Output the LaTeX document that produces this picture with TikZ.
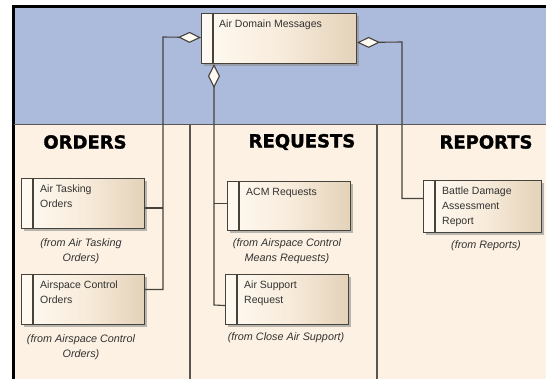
\documentclass[tikz,border=0pt]{standalone}
\usepackage{fontspec}
\setmainfont{Liberation Sans}
\newfontfamily\headfont[FakeBold=1.6]{DejaVu Sans Bold}
\usetikzlibrary{arrows.meta,shadows}

\definecolor{bandblue}{RGB}{172,187,220}
\definecolor{paper}{RGB}{252,241,226}
\definecolor{boxlight}{RGB}{255,250,242}
\definecolor{boxmid}{RGB}{248,236,220}
\definecolor{boxdark}{RGB}{228,210,185}
\definecolor{edge}{RGB}{70,66,60}
\definecolor{ink}{RGB}{50,50,50}

\pgfdeclarehorizontalshading{classfill}{100bp}{
  color(0bp)=(boxlight); color(25bp)=(boxlight); color(50bp)=(boxmid);
  color(75bp)=(boxdark); color(100bp)=(boxdark)}

\tikzset{
  classbox/.style={draw=edge, line width=1.1pt, shading=classfill,
    drop shadow={shadow xshift=2.5pt, shadow yshift=-2.5pt, fill=black!45, opacity=0.6},
    minimum width=123pt, minimum height=50pt, inner sep=0pt, anchor=north west},
  boxtext/.style={anchor=north west, align=left, inner sep=0pt, text=ink,
    font=\fontsize{10.5}{15}\selectfont},
  origin/.style={align=center, inner sep=0pt, text=ink,
    font=\fontsize{10.8}{15.5}\selectfont\itshape},
  heading/.style={inner sep=0pt, font=\headfont\fontsize{18}{20}\selectfont},
  link/.style={draw=edge, line width=1.1pt},
  agg/.style={link, {Diamond[open, length=23pt, width=11pt, fill=boxlight, line width=1.1pt]}-},
  divider/.style={draw=edge!90, line width=1.6pt}
}

\begin{document}
\begin{tikzpicture}[x=1pt, y=-1pt]
  \useasboundingbox (0,0) rectangle (546,379);
  \fill[white] (0,0) rectangle (546,379);

  % package bands
  \fill[bandblue] (14,7) rectangle (546,124);
  \fill[paper] (14,124) rectangle (546,379);
  \draw[line width=3pt] (12.25,7) -- (546,7);
  \draw[line width=2.5pt] (13.5,6) -- (13.5,379);
  \draw[divider] (14,124.5) -- (546,124.5);
  \draw[divider] (190,125) -- (190,379);
  \draw[divider] (377,125) -- (377,379);

  % column headings
  \node[heading] (hord) at (85,142) {ORDERS};
  \node[heading] (hreq) at (302,142) {REQUESTS};
  \node[heading] (hrep) at (486,142) {REPORTS};

  % class boxes
  \node[classbox, minimum width=155pt] (adm) at (201,13) {};
  \node[classbox] (ato) at (21,178) {};
  \node[classbox] (aco) at (21,274) {};
  \node[classbox, minimum width=123pt, minimum height=49pt] (acm) at (227,181) {};
  \node[classbox] (asr) at (225,274) {};
  \node[classbox, minimum width=118pt, minimum height=52pt] (bda) at (423,180) {};

  % stereotype bars
  \foreach \b in {adm,ato,aco,acm,asr,bda}
    \draw[edge, line width=2pt] ([xshift=12pt]\b.north west) -- ([xshift=12pt]\b.south west);

  % box names
  \node[boxtext] (admt) at ([xshift=18pt,yshift=-7pt]adm.north west) {Air Domain Messages};
  \node[boxtext] (atot) at ([xshift=19pt,yshift=-7pt]ato.north west) {Air Tasking\\Orders};
  \node[boxtext] (acot) at ([xshift=19pt,yshift=-7pt]aco.north west) {Airspace Control\\Orders};
  \node[boxtext] (acmt) at ([xshift=19pt,yshift=-7pt]acm.north west) {ACM Requests};
  \node[boxtext] (asrt) at ([xshift=19pt,yshift=-7pt]asr.north west) {Air Support\\Request};
  \node[boxtext] (bdat) at ([xshift=19pt,yshift=-7pt]bda.north west) {Battle Damage\\Assessment\\Report};

  % owning packages
  \node[origin] (atoo) at (81,251) {(from Air Tasking\\Orders)};
  \node[origin] (acoo) at (81,347) {(from Airspace Control\\Orders)};
  \node[origin] (acmo) at (287,251) {(from Airspace Control\\Means Requests)};
  \node[origin] (asro) at (286,338) {(from Close Air Support)};
  \node[origin] (bdao) at (486,246) {(from Reports)};

  % aggregation connectors
  \coordinate (jl) at (163,37);
  \coordinate (jb) at (214,305);
  \coordinate (jr) at (402,42);
  \draw[agg] ([yshift=1pt]adm.west) -- (jl) |- ([yshift=10pt]aco.east);
  \draw[link] ([yshift=-4.5pt]ato.east) -- ([yshift=-4.5pt]ato.east -| jl);
  \draw[agg, {Diamond[open, length=24pt, width=12pt, fill=boxlight, line width=1.1pt]}-]
    ([xshift=13pt]adm.south west) -- (jb) -- ([yshift=-6pt]asr.west);
  \draw[link] ([yshift=2.5pt]acm.west) -- ([yshift=2.5pt]acm.west -| jb);
  \draw[agg] ([yshift=-4pt]adm.east) -- (jr) |- ([yshift=8pt]bda.west);
\end{tikzpicture}
\end{document}
